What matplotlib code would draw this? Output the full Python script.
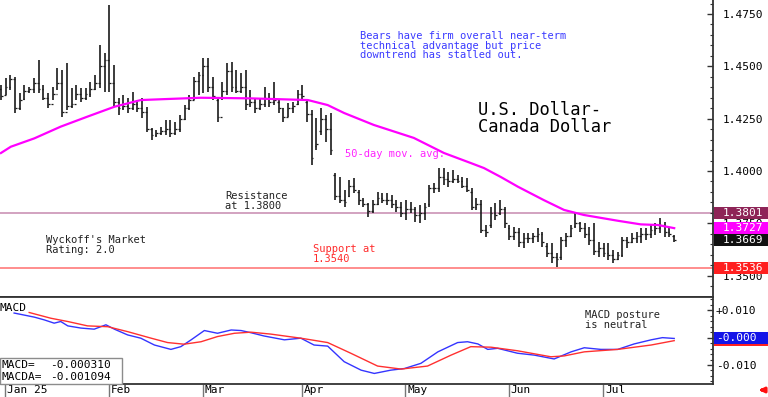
import matplotlib
matplotlib.use('Agg')
import matplotlib.pyplot as plt
from matplotlib.patches import Rectangle
from matplotlib.ticker import MultipleLocator, FixedLocator, FixedFormatter
from matplotlib.transforms import IdentityTransform, blended_transform_factory

# ---------------- data ----------------
highs = [1.4411, 1.4443, 1.4459, 1.4451, 1.4371, 1.4411, 1.4403, 1.4443, 1.4531, 1.4411,
         1.4371, 1.4403, 1.4491, 1.4483, 1.4515, 1.4395, 1.4411, 1.4395, 1.4395, 1.4427,
         1.4459, 1.4602, 1.4563, 1.4794, 1.4507, 1.4347, 1.4363, 1.4347, 1.4379, 1.4339,
         1.4347, 1.4307, 1.4204, 1.4196, 1.4212, 1.4244, 1.4244, 1.4236, 1.4268, 1.4315,
         1.4363, 1.4451, 1.4475, 1.4539, 1.4539, 1.4451, 1.4347, 1.4427, 1.4515, 1.4523,
         1.4483, 1.4467, 1.4483, 1.4387, 1.4347, 1.4347, 1.4403, 1.4371, 1.4427, 1.4339,
         1.4300, 1.4323, 1.4331, 1.4387, 1.4411, 1.4339, 1.4292, 1.4252, 1.4300, 1.4268,
         1.4276, 1.3989, 1.3973, 1.3909, 1.3957, 1.3965, 1.3909, 1.3869, 1.3846, 1.3862,
         1.3901, 1.3893, 1.3893, 1.3885, 1.3862, 1.3854, 1.3862, 1.3854, 1.3830, 1.3838,
         1.3846, 1.3933, 1.3941, 1.4013, 1.4013, 1.3997, 1.4005, 1.3981, 1.3973, 1.3965,
         1.3917, 1.3869, 1.3862, 1.3742, 1.3830, 1.3846, 1.3862, 1.3830, 1.3742, 1.3734,
         1.3726, 1.3702, 1.3702, 1.3702, 1.3726, 1.3710, 1.3654, 1.3654, 1.3607, 1.3686,
         1.3702, 1.3742, 1.3798, 1.3758, 1.3750, 1.3734, 1.3750, 1.3662, 1.3654, 1.3654,
         1.3623, 1.3615, 1.3686, 1.3686, 1.3702, 1.3710, 1.3726, 1.3726, 1.3742, 1.3750,
         1.3774, 1.3758, 1.3734, 1.3694]
lows = [1.4339, 1.4363, 1.4387, 1.4276, 1.4292, 1.4339, 1.4371, 1.4371, 1.4371, 1.4339,
        1.4300, 1.4339, 1.4387, 1.4260, 1.4292, 1.4300, 1.4339, 1.4331, 1.4339, 1.4355,
        1.4387, 1.4395, 1.4379, 1.4379, 1.4307, 1.4268, 1.4292, 1.4276, 1.4292, 1.4284,
        1.4252, 1.4188, 1.4148, 1.4164, 1.4172, 1.4172, 1.4164, 1.4172, 1.4188, 1.4244,
        1.4292, 1.4339, 1.4363, 1.4371, 1.4379, 1.4339, 1.4236, 1.4339, 1.4363, 1.4379,
        1.4371, 1.4371, 1.4292, 1.4308, 1.4276, 1.4292, 1.4308, 1.4308, 1.4316, 1.4276,
        1.4236, 1.4260, 1.4276, 1.4316, 1.4339, 1.4236, 1.4029, 1.4101, 1.4172, 1.4140,
        1.4077, 1.3862, 1.3846, 1.3830, 1.3877, 1.3893, 1.3838, 1.3830, 1.3782, 1.3798,
        1.3838, 1.3846, 1.3838, 1.3822, 1.3806, 1.3782, 1.3766, 1.3798, 1.3758, 1.3750,
        1.3766, 1.3830, 1.3893, 1.3901, 1.3933, 1.3925, 1.3941, 1.3941, 1.3917, 1.3901,
        1.3814, 1.3814, 1.3702, 1.3686, 1.3726, 1.3766, 1.3790, 1.3726, 1.3670, 1.3670,
        1.3638, 1.3631, 1.3654, 1.3654, 1.3662, 1.3638, 1.3591, 1.3559, 1.3543, 1.3575,
        1.3638, 1.3686, 1.3726, 1.3710, 1.3678, 1.3646, 1.3599, 1.3591, 1.3591, 1.3575,
        1.3559, 1.3575, 1.3591, 1.3631, 1.3654, 1.3654, 1.3654, 1.3670, 1.3678, 1.3694,
        1.3702, 1.3686, 1.3686, 1.3662]
opens = [1.4390, 1.4365, 1.4400, 1.4440, 1.4300, 1.4345, 1.4380, 1.4390, 1.4420, 1.4390,
         1.4350, 1.4320, 1.4370, 1.4420, 1.4280, 1.4310, 1.4320, 1.4370, 1.4350, 1.4370,
         1.4390, 1.4420, 1.4500, 1.4530, 1.4420, 1.4330, 1.4300, 1.4310, 1.4300, 1.4320,
         1.4300, 1.4280, 1.4200, 1.4170, 1.4180, 1.4190, 1.4200, 1.4180, 1.4200, 1.4250,
         1.4300, 1.4340, 1.4430, 1.4460, 1.4500, 1.4400, 1.4340, 1.4260, 1.4380, 1.4480,
         1.4400, 1.4380, 1.4400, 1.4320, 1.4330, 1.4300, 1.4320, 1.4350, 1.4330, 1.4330,
         1.4300, 1.4260, 1.4300, 1.4320, 1.4370, 1.4330, 1.4270, 1.4120, 1.4190, 1.4250,
         1.4200, 1.3980, 1.3880, 1.3860, 1.3880, 1.3930, 1.3900, 1.3860, 1.3840, 1.3810,
         1.3840, 1.3870, 1.3860, 1.3860, 1.3840, 1.3830, 1.3800, 1.3820, 1.3820, 1.3790,
         1.3800, 1.3840, 1.3920, 1.3920, 1.3970, 1.3960, 1.3950, 1.3960, 1.3950, 1.3930,
         1.3900, 1.3830, 1.3840, 1.3720, 1.3740, 1.3800, 1.3800, 1.3820, 1.3730, 1.3690,
         1.3710, 1.3660, 1.3680, 1.3680, 1.3690, 1.3700, 1.3640, 1.3610, 1.3590, 1.3590,
         1.3670, 1.3690, 1.3735, 1.3750, 1.3730, 1.3700, 1.3670, 1.3620, 1.3630, 1.3610,
         1.3600, 1.3580, 1.3600, 1.3670, 1.3660, 1.3680, 1.3690, 1.3700, 1.3700, 1.3720,
         1.3730, 1.3740, 1.3710, 1.3690]
closes = [1.4360, 1.4400, 1.4440, 1.4300, 1.4340, 1.4380, 1.4390, 1.4420, 1.4390, 1.4350,
          1.4320, 1.4370, 1.4420, 1.4280, 1.4310, 1.4320, 1.4370, 1.4350, 1.4370, 1.4390,
          1.4420, 1.4500, 1.4530, 1.4420, 1.4330, 1.4300, 1.4310, 1.4300, 1.4320, 1.4300,
          1.4280, 1.4200, 1.4170, 1.4180, 1.4190, 1.4200, 1.4180, 1.4200, 1.4250, 1.4300,
          1.4340, 1.4430, 1.4460, 1.4500, 1.4400, 1.4360, 1.4260, 1.4380, 1.4480, 1.4400,
          1.4380, 1.4400, 1.4320, 1.4330, 1.4300, 1.4320, 1.4350, 1.4330, 1.4340, 1.4300,
          1.4260, 1.4300, 1.4310, 1.4370, 1.4360, 1.4270, 1.4060, 1.4130, 1.4250, 1.4200,
          1.4100, 1.3880, 1.3860, 1.3850, 1.3930, 1.3910, 1.3860, 1.3840, 1.3810, 1.3840,
          1.3870, 1.3860, 1.3860, 1.3840, 1.3830, 1.3800, 1.3820, 1.3820, 1.3790, 1.3800,
          1.3830, 1.3920, 1.3920, 1.3970, 1.3960, 1.3950, 1.3960, 1.3950, 1.3930, 1.3910,
          1.3830, 1.3840, 1.3720, 1.3710, 1.3800, 1.3790, 1.3820, 1.3750, 1.3690, 1.3710,
          1.3660, 1.3680, 1.3680, 1.3690, 1.3700, 1.3660, 1.3610, 1.3590, 1.3580, 1.3670,
          1.3690, 1.3730, 1.3750, 1.3730, 1.3700, 1.3670, 1.3620, 1.3630, 1.3610, 1.3600,
          1.3580, 1.3600, 1.3670, 1.3660, 1.3680, 1.3690, 1.3700, 1.3700, 1.3720, 1.3730,
          1.3740, 1.3710, 1.3700, 1.3669]

# 50-day moving average, read at points along the line (bar index, value)
ma_idx = [0, 2.1, 7.1, 12.7, 18.4, 24.1, 29.7, 35.4, 42.5, 53.1, 65.2, 69.4, 72.9, 79.2,
          87.7, 94.1, 99.8, 102.6, 106.2, 109.8, 115.3, 119.6, 123.8, 131.1, 135.9, 139.5, 143]
ma_val = [1.4086, 1.4116, 1.4156, 1.4212, 1.4260, 1.4307, 1.4339, 1.4344, 1.4350, 1.4347,
          1.4339, 1.4315, 1.4277, 1.4220, 1.4158, 1.4086, 1.4038, 1.4014, 1.3971, 1.3925,
          1.3861, 1.3814, 1.3790, 1.3762, 1.3745, 1.3742, 1.3727]

# MACD (blue) and its average (red)
macd_idx = [2.8, 7.1, 9.2, 11.3, 12.7, 14.2, 17.0, 19.8, 22.3, 24.1, 26.9, 29.7, 32.6, 36.1,
            38.2, 40.4, 43.2, 46.0, 48.9, 51.0, 53.1, 55.9, 60.2, 63.7, 66.5, 69.4, 72.9,
            76.5, 79.3, 82.8, 85.7, 89.2, 92.8, 97.0, 99.1, 101.3, 103.4, 105.5, 109.7,
            113.3, 117.5, 121.1, 123.9, 127.4, 131.0, 134.5, 138.1, 140.5, 143.0]
macd_val = [0.0090, 0.0075, 0.0065, 0.0053, 0.0059, 0.0043, 0.0035, 0.0031, 0.0047, 0.0031,
            0.0010, -0.0002, -0.0027, -0.0043, -0.0033, -0.0008, 0.0026, 0.0016, 0.0028,
            0.0026, 0.0018, 0.0006, -0.0008, -0.0002, -0.0027, -0.0031, -0.0088, -0.0119,
            -0.0131, -0.0119, -0.0113, -0.0094, -0.0052, -0.0018, -0.0015, -0.0023, -0.0043,
            -0.0039, -0.0057, -0.0064, -0.0078, -0.0052, -0.0037, -0.0043, -0.0043, -0.0023,
            -0.0008, 0.0000, -0.0003]
sig_idx = [6.0, 10.6, 14.2, 18.4, 22.7, 26.9, 31.9, 35.4, 38.9, 42.5, 46.0, 49.6, 53.1,
           57.3, 63.7, 69.4, 74.3, 80.0, 85.0, 90.6, 95.6, 99.8, 104.1, 109.7, 116.8,
           119.6, 123.9, 131.0, 138.1, 143.0]
sig_val = [0.0092, 0.0071, 0.0059, 0.0043, 0.0040, 0.0022, -0.0002, -0.0018, -0.0024,
           -0.0015, 0.0004, 0.0016, 0.0020, 0.0013, -0.0002, -0.0018, -0.0057, -0.0104,
           -0.0115, -0.0104, -0.0064, -0.0033, -0.0035, -0.0048, -0.0070, -0.0067, -0.0052,
           -0.0043, -0.0027, -0.0011]

month_labels = ['Jan 25', 'Feb', 'Mar', 'Apr', 'May', 'Jun', 'Jul']
month_pos = [1, 23, 43, 64, 86, 108, 128]

price_ticks = [1.3500, 1.3750, 1.4000, 1.4250, 1.4500, 1.4750]
macd_ticks = [-0.010, 0.000, 0.010]
macd_tick_labels = ['-0.010', '-0.000', '+0.010']

resistance = 1.3801
support = 1.3536
ma_last = 1.3727
last_close = 1.3669
macd_last = -0.000310
macda_last = -0.001094

# ---------------- figure ----------------
MONO = 'DejaVu Sans Mono'
W, H = 768, 397
fig = plt.figure(figsize=(W / 100, H / 100), dpi=100)
fig.patch.set_facecolor('white')

ax1 = fig.add_axes([0, 1 - 297 / H, 713 / W, 297 / H])
ax2 = fig.add_axes([0, 1 - 383.5 / H, 713 / W, 86.5 / H])

xlim = (-0.2, 151.24)
for ax in (ax1, ax2):
    ax.set_xlim(*xlim)
    ax.set_facecolor('white')
    ax.spines['left'].set_visible(False)
    for s in ('right', 'bottom', 'top'):
        ax.spines[s].set_color('#333333')
        ax.spines[s].set_linewidth(1.3)
ax1.spines['top'].set_visible(False)

ax1.set_ylim(1.3398, 1.4817)
ax2.set_ylim(-0.01678, 0.01487)

# price bars
idx = list(range(len(highs)))
ax1.vlines(idx, lows, highs, color='#1a1a1a', lw=1.2, zorder=3)
ax1.hlines(opens, [i - 0.38 for i in idx], idx, color='#1a1a1a', lw=0.9, zorder=3)
ax1.hlines(closes, idx, [i + 0.38 for i in idx], color='#1a1a1a', lw=0.9, zorder=3)

ax1.plot(ma_idx, ma_val, color='#FF00FF', lw=1.6, zorder=4)
ax1.axhline(resistance, color='#D2A2C0', lw=1.4, zorder=1)
ax1.axhline(support, color='#FF8585', lw=1.3, zorder=1)

# price axis
ax1.yaxis.tick_right()
ax1.yaxis.set_major_locator(FixedLocator(price_ticks))
ax1.yaxis.set_major_formatter(FixedFormatter([f'{v:.4f}' for v in price_ticks]))
ax1.yaxis.set_minor_locator(MultipleLocator(0.005))
ax1.tick_params(axis='y', which='major', direction='in', length=4, width=1, color='#333333',
                pad=7, labelsize=8, labelfontfamily=MONO)
ax1.tick_params(axis='y', which='minor', direction='in', length=2, width=0.8, color='#333333')
ax1.tick_params(axis='x', which='both', bottom=False, labelbottom=False)

# MACD panel
ax2.plot(macd_idx, macd_val, color='#3434FF', lw=1.0, zorder=3)
ax2.plot(sig_idx, sig_val, color='#FF3030', lw=1.0, zorder=3)
ax2.yaxis.tick_right()
ax2.yaxis.set_major_locator(FixedLocator(macd_ticks))
ax2.yaxis.set_major_formatter(FixedFormatter(macd_tick_labels))
ax2.yaxis.set_minor_locator(MultipleLocator(0.002))
ax2.tick_params(axis='y', which='major', direction='in', length=4, width=1, color='#333333',
                pad=2, labelsize=8, labelfontfamily=MONO)
ax2.tick_params(axis='y', which='minor', direction='in', length=2, width=0.8, color='#333333')
ax2.set_xticks([p - 0.15 for p in month_pos])
ax2.set_xticklabels([''] * len(month_pos))
ax2.tick_params(axis='x', direction='out', length=10, width=1, color='#777777')
trans = blended_transform_factory(ax2.transData, ax2.transAxes)
for p, lab in zip(month_pos, month_labels):
    ax2.annotate(lab, xy=(p - 0.15, 0), xycoords=trans, xytext=(1.5, -5.0),
                 textcoords='offset points', ha='left', va='center',
                 family=MONO, fontsize=8, annotation_clip=False)

ax2.text(0.0, 0.93, 'MACD', transform=ax2.transAxes, family=MONO, fontsize=8,
         ha='left', va='top')


def ftext(x, y, s, **kw):
    kw.setdefault('family', MONO)
    kw.setdefault('va', 'top')
    kw.setdefault('ha', 'left')
    return fig.text(x / W, 1 - y / H, s, **kw)


# annotations
ftext(360, 31, 'Bears have firm overall near-term\ntechnical advantage but price\ndowntrend has stalled out.',
      color='#3A3AFF', fontsize=7.5, linespacing=0.95)
ftext(478, 101, 'U.S. Dollar-\nCanada Dollar', color='black', fontsize=12.3, linespacing=0.92)
ftext(345, 149, '50-day mov. avg.', color='#FF22FF', fontsize=7.5)
ftext(225, 191, 'Resistance\nat 1.3800', color='#222222', fontsize=7.5, linespacing=0.95)
ftext(46, 235, "Wyckoff's Market\nRating: 2.0", color='#222222', fontsize=7.5, linespacing=0.95)
ftext(313, 244, 'Support at\n1.3540', color='#FF2A2A', fontsize=7.5, linespacing=0.95)
ftext(585, 310, 'MACD posture\nis neutral', color='#222222', fontsize=7.5, linespacing=0.95)

# MACD value box
fig.add_artist(Rectangle((0, H - 383.5), 122, 25.5, transform=IdentityTransform(),
                         fc='white', ec='#8c8c8c', lw=1, zorder=5))
ftext(1, 364.5, 'MACD=', fontsize=8, va='center', zorder=6)
ftext(50, 364.5, f'{macd_last:.6f}', fontsize=8, va='center', zorder=6)
ftext(1, 377.5, 'MACDA=', fontsize=8, va='center', zorder=6)
ftext(50, 377.5, f'{macda_last:.6f}', fontsize=8, va='center', zorder=6)

# right-side value boxes
fig.canvas.draw()
x0 = ax1.transAxes.transform((1, 0))[0]


def rbox(ax, v, s, fc, tx=10, h=12):
    yd = ax.transData.transform((0, v))[1]
    fig.add_artist(Rectangle((x0 + 1, yd - h / 2), W - x0, h, transform=IdentityTransform(),
                             fc=fc, ec='none', zorder=7))
    fig.text(x0 + tx, yd, s, transform=IdentityTransform(), color='white', family=MONO,
             fontsize=8, ha='left', va='center', zorder=8)
    return yd


rbox(ax1, resistance, f'{resistance:.4f}', '#8E2457')
rbox(ax1, ma_last, f'{ma_last:.4f}', '#FF00FF')
rbox(ax1, last_close, f'{last_close:.4f}', '#111111')
rbox(ax1, support, f'{support:.4f}', '#FF2020')

yd = ax2.transData.transform((0, 0.0))[1]
fig.add_artist(Rectangle((x0 + 1, yd - 6), W - x0, 12, transform=IdentityTransform(),
                         fc='#1414E8', ec='none', zorder=7))
fig.add_artist(Rectangle((x0 + 1, yd - 8), W - x0, 2, transform=IdentityTransform(),
                         fc='#FF2020', ec='none', zorder=7))
fig.text(x0 + 3, yd, f'{macd_last:.3f}', transform=IdentityTransform(), color='white',
         family=MONO, fontsize=8, ha='left', va='center', zorder=8)

# small red arrow, bottom right
fig.add_artist(plt.Annotation('', xy=(756, 7), xycoords='figure pixels', xytext=(767, 7),
                              textcoords='figure pixels',
                              arrowprops=dict(arrowstyle='-|>', color='#FF1010', lw=2.2,
                                              mutation_scale=7)))

fig.savefig('out.png', dpi=100, facecolor='white')
